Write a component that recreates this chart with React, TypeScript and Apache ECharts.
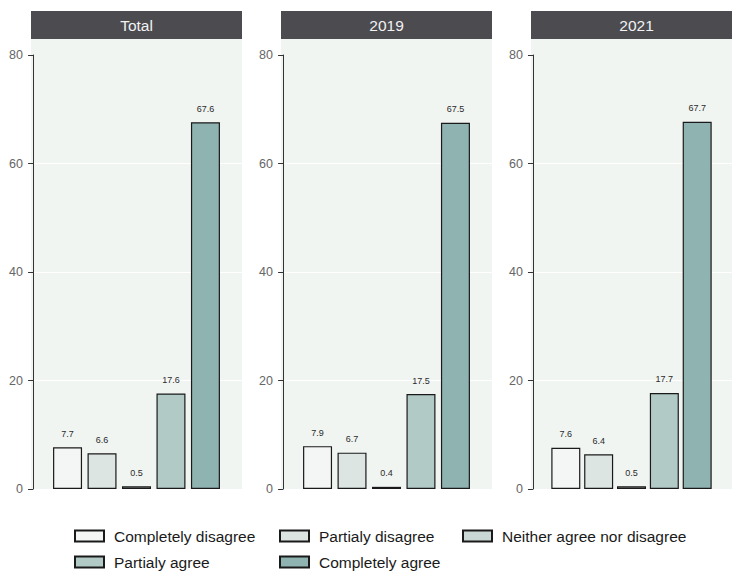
import React, { useEffect, useRef } from "react";
import * as echarts from "echarts";

// Facet titles and response categories
const panels = ["Total", "2019", "2021"];
const responses = [
  "Completely disagree",
  "Partialy disagree",
  "Neither agree nor disagree",
  "Partialy agree",
  "Completely agree",
];

// Percentages per facet, in the order of `responses`
const totalValues = [7.7, 6.6, 0.5, 17.6, 67.6];
const values2019 = [7.9, 6.7, 0.4, 17.5, 67.5];
const values2021 = [7.6, 6.4, 0.5, 17.7, 67.7];
const panelValues = [totalValues, values2019, values2021];

const yMin = 0;
const yMax = 80;
const yStep = 20;

const fills = ["#f3f6f5", "#dde5e3", "#cad8d5", "#b2cac6", "#8fb3b0"];

const FONT = "'Liberation Sans', Arial, Helvetica, sans-serif";
const PANEL_BG = "#f1f5f2";
const STRIP_BG = "#4b4b50";
const panelLefts = [31, 281, 531];
const panelWidth = 211;
const plotTop = 55;
const plotHeight = 434;
const stripTop = 11;
const stripHeight = 28;

// legend slots: [left, top] for each response, two rows of three columns
const legendSlots: [number, number][] = [
  [74, 528],
  [279, 528],
  [462, 528],
  [74, 554],
  [279, 554],
];

export default function App() {
  const ref = useRef<HTMLDivElement>(null);

  useEffect(() => {
    if (!ref.current) return;
    const chart = echarts.init(ref.current, undefined, { renderer: "svg" });

    const grids = panelLefts.map((left) => ({
      left,
      top: plotTop,
      width: panelWidth,
      height: plotHeight,
      show: true,
      backgroundColor: PANEL_BG,
      borderWidth: 0,
      containLabel: false,
    }));

    const xAxes = panels.map((_, p) => ({
      type: "value",
      gridIndex: p,
      min: -0.06,
      max: 6.06,
      show: false,
    }));

    const yAxes = panels.map((_, p) => ({
      type: "value",
      gridIndex: p,
      min: yMin,
      max: yMax,
      interval: yStep,
      axisLine: { show: true, lineStyle: { color: "#333333", width: 1 } },
      axisTick: { show: true, length: 5, lineStyle: { color: "#333333", width: 1 } },
      axisLabel: { fontSize: 12.5, color: "#666666", margin: 8, fontFamily: FONT },
      splitLine: {
        show: true,
        showMaxLine: false,
        lineStyle: { color: "#ffffff", width: 1.2 },
      },
    }));

    const series: any[] = [];
    panels.forEach((_, p) => {
      responses.forEach((name, k) => {
        series.push({
          type: "bar",
          name,
          xAxisIndex: p,
          yAxisIndex: p,
          barWidth: 29,
          barGap: "-100%",
          data: [[k + 1, panelValues[p][k]]],
          itemStyle: { color: fills[k], borderColor: "#1a1a1a", borderWidth: 1.2 },
          label: {
            show: true,
            position: "top",
            distance: 9,
            fontSize: 9,
            color: "#2a2a2a",
            fontFamily: FONT,
            formatter: (prm: any) => Number(prm.value[1]).toFixed(1),
          },
        });
      });
    });

    const graphics: any[] = [];
    panels.forEach((title, p) => {
      const left = panelLefts[p];
      graphics.push({
        type: "rect",
        shape: { x: left, y: stripTop, width: panelWidth, height: stripHeight },
        style: { fill: STRIP_BG },
        silent: true,
      });
      graphics.push({
        type: "text",
        x: left + panelWidth / 2,
        y: stripTop + stripHeight / 2,
        style: {
          text: title,
          fill: "#f2f2f2",
          fontSize: 15.5,
          fontFamily: FONT,
          align: "center",
          verticalAlign: "middle",
        },
        silent: true,
      });
      graphics.push({
        type: "rect",
        shape: {
          x: left,
          y: stripTop + stripHeight,
          width: panelWidth,
          height: plotTop - stripTop - stripHeight,
        },
        style: { fill: PANEL_BG },
        silent: true,
      });
    });

    const legends = responses.map((name, k) => ({
      orient: "horizontal",
      icon: "rect",
      itemWidth: 29,
      itemHeight: 11,
      left: legendSlots[k][0],
      top: legendSlots[k][1],
      padding: 0,
      selectedMode: false,
      data: [name],
      textStyle: {
        fontSize: 15.5,
        color: "#1a1a1a",
        fontFamily: FONT,
        padding: [0, 0, 0, 5],
      },
    }));

    chart.setOption({
      animation: false,
      backgroundColor: "#ffffff",
      grid: grids,
      xAxis: xAxes,
      yAxis: yAxes,
      series,
      graphic: graphics,
      legend: legends,
    });

    return () => chart.dispose();
  }, []);

  return (
    <div
      ref={ref}
      style={{ position: "fixed", left: 0, top: 0, width: 732, height: 571 }}
    />
  );
}
